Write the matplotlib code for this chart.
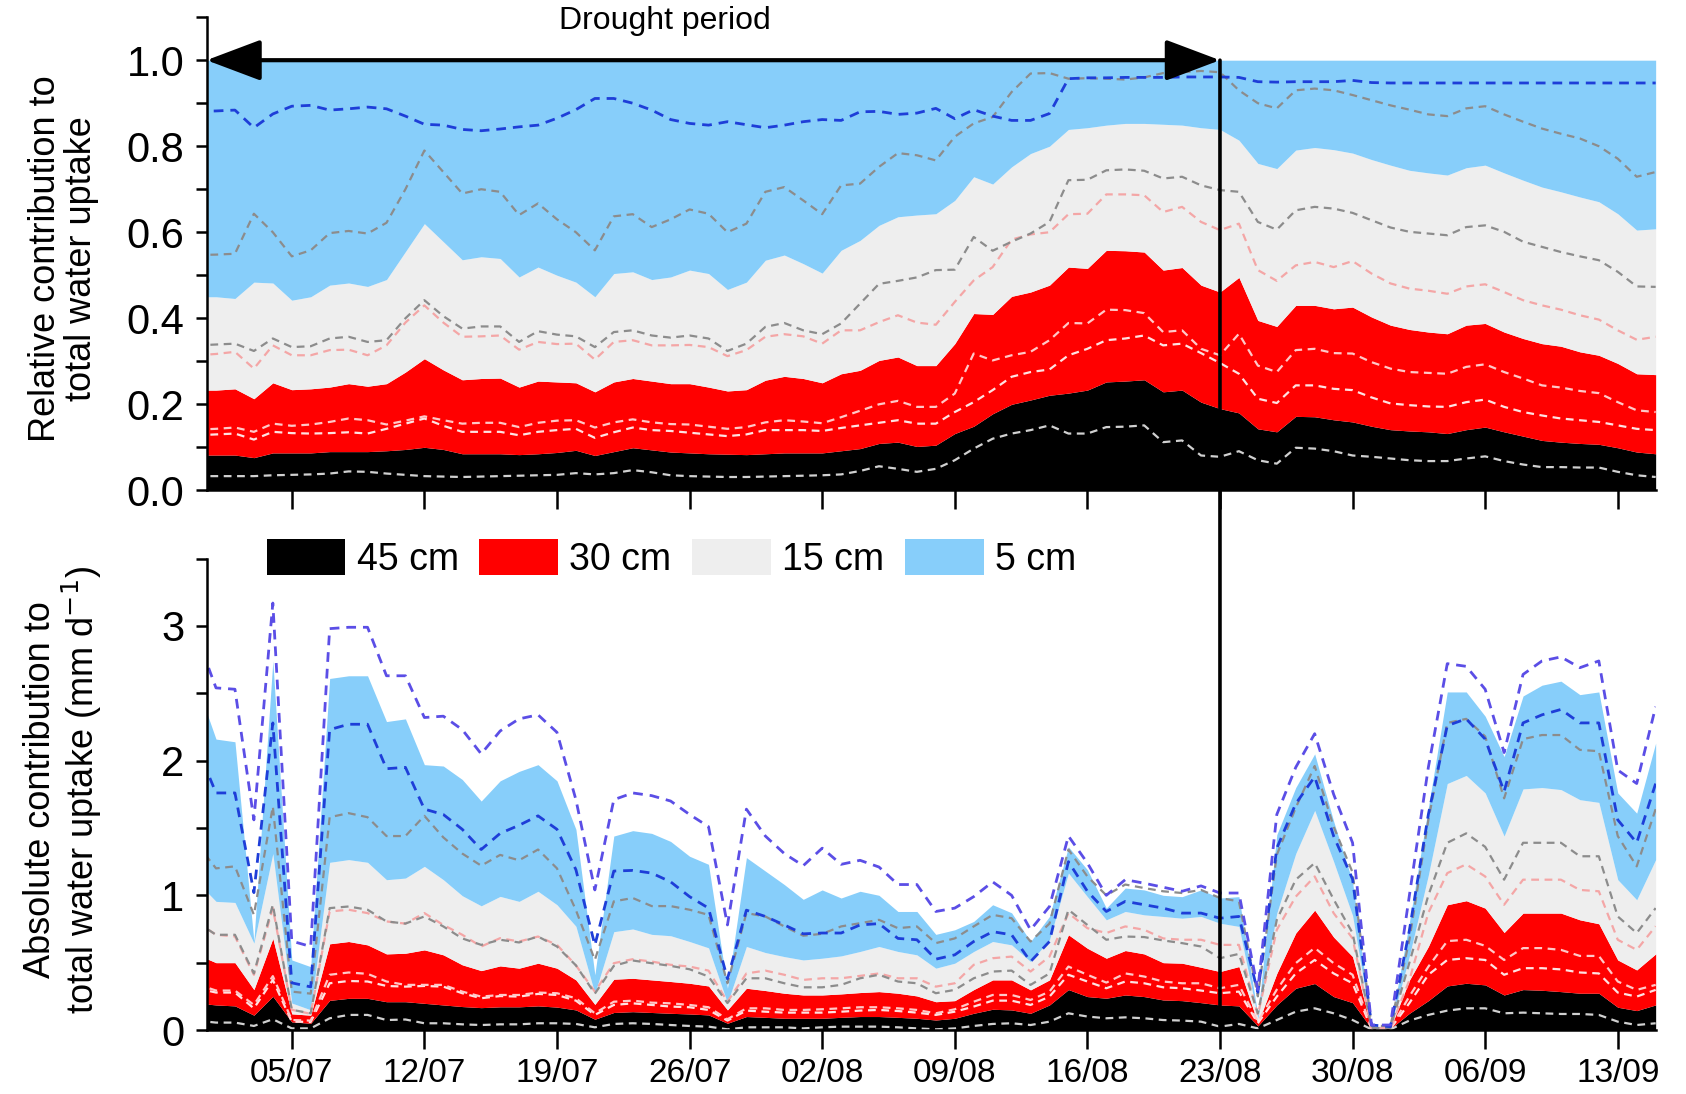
import numpy as np
from matplotlib import pyplot as plt
from matplotlib.patches import Patch, ConnectionPatch
from matplotlib.ticker import MultipleLocator

plt.rcParams['font.family'] = ['Liberation Sans', 'DejaVu Sans']

# day index: 0 = 30/06, 77 = 15/09
days = np.arange(0, 78)
tick_days = [5, 12, 19, 26, 33, 40, 47, 54, 61, 68, 75]
tick_labels = ['05/07', '12/07', '19/07', '26/07', '02/08', '09/08',
               '16/08', '23/08', '30/08', '06/09', '13/09']
drought_end = 54

# relative contribution, cumulative tops of each layer
rel_45 = [
    0.082, 0.082, 0.082, 0.076, 0.087, 0.087, 0.087, 0.090, 0.090, 0.090,
    0.092, 0.095, 0.100, 0.095, 0.085, 0.085, 0.085, 0.083, 0.085, 0.088,
    0.093, 0.081, 0.090, 0.099, 0.094, 0.089, 0.087, 0.085, 0.084, 0.083,
    0.085, 0.087, 0.087, 0.087, 0.092, 0.097, 0.109, 0.112, 0.102, 0.105,
    0.132, 0.149, 0.178, 0.200, 0.210, 0.221, 0.226, 0.233, 0.252, 0.254,
    0.257, 0.229, 0.233, 0.205, 0.190, 0.180, 0.143, 0.136, 0.172, 0.171,
    0.164, 0.159, 0.149, 0.141, 0.138, 0.136, 0.132, 0.141, 0.147, 0.136,
    0.126, 0.116, 0.112, 0.109, 0.107, 0.099, 0.089, 0.085]
rel_30 = [
    0.233, 0.233, 0.236, 0.213, 0.250, 0.234, 0.236, 0.240, 0.248, 0.242,
    0.248, 0.275, 0.306, 0.280, 0.257, 0.260, 0.261, 0.240, 0.254, 0.252,
    0.250, 0.229, 0.252, 0.260, 0.254, 0.248, 0.248, 0.240, 0.231, 0.234,
    0.256, 0.265, 0.260, 0.250, 0.271, 0.279, 0.302, 0.310, 0.290, 0.290,
    0.341, 0.411, 0.409, 0.451, 0.461, 0.477, 0.519, 0.516, 0.558, 0.557,
    0.554, 0.512, 0.518, 0.477, 0.461, 0.495, 0.395, 0.381, 0.430, 0.430,
    0.422, 0.426, 0.403, 0.384, 0.374, 0.368, 0.364, 0.384, 0.388, 0.368,
    0.353, 0.341, 0.335, 0.322, 0.314, 0.295, 0.271, 0.269]
rel_15 = [
    0.450, 0.450, 0.446, 0.484, 0.482, 0.442, 0.450, 0.477, 0.482, 0.474,
    0.490, 0.555, 0.620, 0.578, 0.536, 0.543, 0.539, 0.496, 0.519, 0.500,
    0.484, 0.450, 0.504, 0.508, 0.490, 0.496, 0.512, 0.504, 0.467, 0.484,
    0.535, 0.547, 0.527, 0.505, 0.558, 0.581, 0.616, 0.636, 0.640, 0.643,
    0.674, 0.729, 0.712, 0.752, 0.783, 0.800, 0.839, 0.843, 0.849, 0.853,
    0.853, 0.851, 0.849, 0.843, 0.839, 0.814, 0.760, 0.748, 0.791, 0.797,
    0.792, 0.784, 0.769, 0.756, 0.744, 0.738, 0.733, 0.750, 0.756, 0.738,
    0.721, 0.705, 0.694, 0.682, 0.671, 0.643, 0.605, 0.608]

# dashed bounds, relative panel (bottom to top)
rel_q1 = [
    0.033, 0.033, 0.033, 0.033, 0.035, 0.036, 0.037, 0.039, 0.044, 0.043,
    0.039, 0.036, 0.033, 0.032, 0.031, 0.032, 0.033, 0.034, 0.035, 0.036,
    0.040, 0.037, 0.040, 0.047, 0.042, 0.035, 0.033, 0.032, 0.031, 0.031,
    0.032, 0.033, 0.034, 0.035, 0.037, 0.045, 0.056, 0.050, 0.043, 0.050,
    0.070, 0.097, 0.120, 0.132, 0.140, 0.151, 0.132, 0.132, 0.147, 0.148,
    0.151, 0.112, 0.116, 0.081, 0.078, 0.091, 0.070, 0.062, 0.099, 0.097,
    0.091, 0.081, 0.078, 0.074, 0.070, 0.068, 0.068, 0.074, 0.079, 0.068,
    0.060, 0.054, 0.054, 0.053, 0.053, 0.043, 0.035, 0.031]
rel_q2 = [
    0.128, 0.130, 0.132, 0.118, 0.136, 0.133, 0.132, 0.133, 0.135, 0.132,
    0.143, 0.155, 0.167, 0.150, 0.136, 0.136, 0.136, 0.128, 0.136, 0.140,
    0.143, 0.122, 0.135, 0.146, 0.140, 0.138, 0.134, 0.130, 0.126, 0.130,
    0.140, 0.140, 0.140, 0.138, 0.145, 0.151, 0.157, 0.163, 0.155, 0.155,
    0.182, 0.205, 0.233, 0.264, 0.275, 0.281, 0.314, 0.329, 0.349, 0.353,
    0.360, 0.337, 0.341, 0.319, 0.296, 0.271, 0.213, 0.203, 0.244, 0.244,
    0.236, 0.233, 0.216, 0.202, 0.198, 0.195, 0.194, 0.205, 0.211, 0.194,
    0.182, 0.174, 0.167, 0.163, 0.159, 0.151, 0.143, 0.140]
rel_q3 = [
    0.141, 0.143, 0.146, 0.136, 0.155, 0.150, 0.153, 0.159, 0.167, 0.163,
    0.153, 0.162, 0.172, 0.163, 0.155, 0.157, 0.157, 0.147, 0.157, 0.162,
    0.163, 0.146, 0.158, 0.165, 0.158, 0.154, 0.153, 0.148, 0.143, 0.147,
    0.158, 0.163, 0.160, 0.156, 0.170, 0.185, 0.200, 0.208, 0.194, 0.194,
    0.225, 0.318, 0.302, 0.314, 0.322, 0.349, 0.389, 0.388, 0.420, 0.419,
    0.412, 0.368, 0.372, 0.329, 0.314, 0.364, 0.290, 0.275, 0.326, 0.329,
    0.319, 0.318, 0.298, 0.283, 0.275, 0.273, 0.271, 0.287, 0.293, 0.275,
    0.260, 0.244, 0.239, 0.231, 0.226, 0.205, 0.186, 0.182]
rel_q4 = [
    0.314, 0.317, 0.322, 0.283, 0.337, 0.314, 0.314, 0.326, 0.327, 0.314,
    0.337, 0.390, 0.430, 0.390, 0.357, 0.358, 0.360, 0.327, 0.345, 0.340,
    0.341, 0.304, 0.345, 0.349, 0.337, 0.337, 0.338, 0.333, 0.312, 0.326,
    0.357, 0.363, 0.358, 0.341, 0.372, 0.372, 0.391, 0.407, 0.390, 0.385,
    0.438, 0.488, 0.519, 0.583, 0.595, 0.600, 0.642, 0.643, 0.688, 0.688,
    0.686, 0.647, 0.659, 0.624, 0.605, 0.620, 0.512, 0.487, 0.523, 0.531,
    0.519, 0.533, 0.504, 0.481, 0.469, 0.464, 0.457, 0.474, 0.479, 0.461,
    0.442, 0.430, 0.420, 0.407, 0.397, 0.372, 0.350, 0.357]
rel_q5 = [
    0.337, 0.339, 0.341, 0.324, 0.353, 0.333, 0.335, 0.353, 0.357, 0.345,
    0.349, 0.400, 0.442, 0.405, 0.376, 0.381, 0.381, 0.345, 0.370, 0.362,
    0.358, 0.333, 0.368, 0.372, 0.360, 0.355, 0.360, 0.353, 0.324, 0.341,
    0.380, 0.389, 0.372, 0.363, 0.388, 0.434, 0.480, 0.487, 0.495, 0.512,
    0.513, 0.589, 0.557, 0.578, 0.597, 0.624, 0.721, 0.722, 0.744, 0.746,
    0.743, 0.725, 0.729, 0.709, 0.698, 0.694, 0.624, 0.606, 0.651, 0.659,
    0.655, 0.645, 0.628, 0.611, 0.601, 0.597, 0.593, 0.612, 0.616, 0.601,
    0.578, 0.566, 0.554, 0.544, 0.535, 0.508, 0.474, 0.473]
rel_q6 = [
    0.547, 0.548, 0.550, 0.643, 0.600, 0.544, 0.558, 0.598, 0.603, 0.597,
    0.622, 0.700, 0.790, 0.740, 0.690, 0.700, 0.694, 0.640, 0.667, 0.630,
    0.600, 0.558, 0.637, 0.642, 0.612, 0.630, 0.653, 0.643, 0.600, 0.620,
    0.694, 0.705, 0.674, 0.642, 0.709, 0.713, 0.752, 0.784, 0.779, 0.767,
    0.822, 0.853, 0.868, 0.926, 0.969, 0.970, 0.957, 0.958, 0.957, 0.955,
    0.960, 0.970, 0.972, 0.975, 0.972, 0.930, 0.900, 0.888, 0.930, 0.934,
    0.930, 0.919, 0.907, 0.895, 0.885, 0.874, 0.870, 0.888, 0.893, 0.874,
    0.857, 0.841, 0.829, 0.818, 0.800, 0.771, 0.729, 0.740]
rel_q7 = [
    0.881, 0.882, 0.884, 0.843, 0.875, 0.893, 0.895, 0.884, 0.887, 0.891,
    0.887, 0.870, 0.851, 0.849, 0.839, 0.836, 0.840, 0.845, 0.849, 0.865,
    0.885, 0.911, 0.911, 0.900, 0.884, 0.862, 0.853, 0.849, 0.857, 0.850,
    0.843, 0.849, 0.857, 0.862, 0.860, 0.880, 0.881, 0.874, 0.877, 0.888,
    0.864, 0.885, 0.870, 0.860, 0.860, 0.876, 0.957, 0.959, 0.959, 0.960,
    0.960, 0.960, 0.961, 0.961, 0.961, 0.960, 0.950, 0.949, 0.950, 0.950,
    0.950, 0.953, 0.948, 0.947, 0.947, 0.947, 0.947, 0.947, 0.947, 0.947,
    0.947, 0.947, 0.947, 0.947, 0.947, 0.947, 0.947, 0.947]

# absolute contribution (mm/d), cumulative tops of each layer
abs_45 = [
    0.200, 0.186, 0.179, 0.110, 0.250, 0.060, 0.050, 0.220, 0.235, 0.235,
    0.210, 0.210, 0.198, 0.186, 0.174, 0.166, 0.172, 0.172, 0.179, 0.170,
    0.149, 0.080, 0.130, 0.136, 0.130, 0.124, 0.119, 0.112, 0.050, 0.100,
    0.094, 0.087, 0.087, 0.087, 0.094, 0.100, 0.100, 0.094, 0.087, 0.074,
    0.087, 0.124, 0.154, 0.149, 0.124, 0.186, 0.300, 0.248, 0.236, 0.260,
    0.248, 0.223, 0.218, 0.203, 0.186, 0.179, 0.030, 0.186, 0.310, 0.345,
    0.248, 0.203, 0.010, 0.010, 0.124, 0.218, 0.327, 0.347, 0.335, 0.260,
    0.300, 0.295, 0.285, 0.273, 0.273, 0.169, 0.144, 0.186]
abs_30 = [
    0.560, 0.500, 0.500, 0.300, 0.680, 0.120, 0.110, 0.640, 0.657, 0.632,
    0.565, 0.570, 0.595, 0.558, 0.484, 0.441, 0.476, 0.459, 0.496, 0.459,
    0.372, 0.190, 0.377, 0.384, 0.372, 0.360, 0.347, 0.327, 0.149, 0.310,
    0.293, 0.273, 0.260, 0.260, 0.268, 0.278, 0.285, 0.273, 0.253, 0.210,
    0.218, 0.300, 0.372, 0.372, 0.298, 0.372, 0.707, 0.607, 0.533, 0.590,
    0.565, 0.500, 0.496, 0.466, 0.434, 0.471, 0.050, 0.420, 0.720, 0.890,
    0.690, 0.545, 0.015, 0.015, 0.370, 0.620, 0.930, 0.960, 0.905, 0.724,
    0.868, 0.868, 0.868, 0.818, 0.789, 0.520, 0.446, 0.565]
abs_15 = [
    1.100, 0.955, 0.947, 0.645, 1.310, 0.200, 0.150, 1.245, 1.265, 1.245,
    1.116, 1.128, 1.215, 1.116, 0.997, 0.922, 0.992, 0.955, 1.030, 0.930,
    0.770, 0.270, 0.730, 0.750, 0.710, 0.700, 0.657, 0.610, 0.200, 0.620,
    0.575, 0.545, 0.520, 0.533, 0.550, 0.583, 0.620, 0.583, 0.558, 0.459,
    0.496, 0.583, 0.657, 0.632, 0.508, 0.670, 1.165, 0.990, 0.818, 0.880,
    0.855, 0.843, 0.830, 0.843, 0.793, 0.769, 0.087, 0.868, 1.310, 1.630,
    1.250, 0.850, 0.020, 0.020, 0.550, 1.150, 1.830, 1.890, 1.760, 1.440,
    1.790, 1.800, 1.785, 1.710, 1.690, 1.116, 0.967, 1.265]
abs_5 = [
    2.560, 2.160, 2.140, 0.660, 2.740, 0.520, 0.470, 2.610, 2.630, 2.630,
    2.290, 2.310, 1.970, 1.960, 1.860, 1.700, 1.850, 1.920, 1.970, 1.850,
    1.490, 0.410, 1.440, 1.480, 1.460, 1.400, 1.290, 1.230, 0.310, 1.280,
    1.180, 1.080, 0.970, 1.040, 0.980, 1.030, 1.000, 0.880, 0.880, 0.710,
    0.744, 0.806, 0.930, 0.870, 0.657, 0.843, 1.360, 1.190, 0.905, 1.054,
    1.040, 1.000, 0.990, 1.040, 0.980, 0.990, 0.110, 1.450, 1.800, 2.050,
    1.550, 1.100, 0.025, 0.025, 0.800, 1.650, 2.510, 2.510, 2.330, 2.030,
    2.480, 2.560, 2.590, 2.490, 2.510, 1.760, 1.610, 2.130]

# dashed bounds, absolute panel (bottom to top)
abs_q1 = [
    0.070, 0.055, 0.055, 0.030, 0.080, 0.012, 0.012, 0.087, 0.112, 0.112,
    0.074, 0.078, 0.050, 0.050, 0.042, 0.037, 0.042, 0.042, 0.050, 0.050,
    0.045, 0.020, 0.045, 0.050, 0.045, 0.037, 0.030, 0.025, 0.005, 0.020,
    0.020, 0.020, 0.012, 0.020, 0.025, 0.025, 0.025, 0.020, 0.012, 0.005,
    0.012, 0.030, 0.045, 0.050, 0.037, 0.062, 0.124, 0.100, 0.087, 0.094,
    0.087, 0.074, 0.070, 0.062, 0.025, 0.045, 0.012, 0.074, 0.136, 0.161,
    0.124, 0.074, 0.005, 0.005, 0.070, 0.112, 0.144, 0.161, 0.161, 0.124,
    0.129, 0.124, 0.119, 0.119, 0.112, 0.062, 0.037, 0.050]
abs_q2 = [
    0.310, 0.278, 0.278, 0.161, 0.372, 0.062, 0.060, 0.347, 0.364, 0.360,
    0.327, 0.322, 0.327, 0.322, 0.273, 0.236, 0.252, 0.248, 0.268, 0.260,
    0.218, 0.112, 0.186, 0.198, 0.186, 0.174, 0.169, 0.149, 0.070, 0.144,
    0.136, 0.129, 0.129, 0.129, 0.136, 0.144, 0.149, 0.141, 0.129, 0.112,
    0.136, 0.174, 0.218, 0.218, 0.186, 0.248, 0.410, 0.360, 0.310, 0.360,
    0.347, 0.317, 0.310, 0.293, 0.273, 0.285, 0.050, 0.248, 0.420, 0.520,
    0.420, 0.347, 0.010, 0.010, 0.200, 0.410, 0.520, 0.533, 0.520, 0.410,
    0.459, 0.459, 0.450, 0.427, 0.420, 0.278, 0.248, 0.298]
abs_q3 = [
    0.340, 0.293, 0.293, 0.186, 0.400, 0.074, 0.070, 0.410, 0.427, 0.417,
    0.360, 0.335, 0.335, 0.335, 0.285, 0.248, 0.260, 0.260, 0.278, 0.273,
    0.236, 0.124, 0.210, 0.218, 0.203, 0.198, 0.186, 0.169, 0.080, 0.161,
    0.161, 0.149, 0.149, 0.154, 0.161, 0.169, 0.169, 0.161, 0.149, 0.124,
    0.154, 0.210, 0.260, 0.260, 0.223, 0.285, 0.471, 0.410, 0.352, 0.420,
    0.397, 0.360, 0.347, 0.347, 0.310, 0.335, 0.062, 0.300, 0.496, 0.610,
    0.496, 0.410, 0.012, 0.012, 0.250, 0.470, 0.660, 0.670, 0.625, 0.520,
    0.608, 0.608, 0.595, 0.550, 0.550, 0.360, 0.298, 0.335]
abs_q4 = [
    0.800, 0.707, 0.695, 0.410, 0.905, 0.150, 0.120, 0.880, 0.893, 0.868,
    0.806, 0.790, 0.868, 0.780, 0.707, 0.620, 0.682, 0.657, 0.694, 0.632,
    0.480, 0.285, 0.496, 0.526, 0.508, 0.484, 0.471, 0.441, 0.210, 0.420,
    0.441, 0.410, 0.372, 0.384, 0.384, 0.402, 0.420, 0.384, 0.384, 0.322,
    0.347, 0.484, 0.533, 0.545, 0.434, 0.545, 0.868, 0.756, 0.720, 0.769,
    0.744, 0.680, 0.670, 0.670, 0.632, 0.632, 0.112, 0.744, 0.990, 1.140,
    0.868, 0.680, 0.015, 0.015, 0.370, 0.870, 1.165, 1.230, 1.140, 0.930,
    1.116, 1.116, 1.116, 1.040, 1.030, 0.670, 0.595, 0.770]
abs_q5 = [
    0.800, 0.707, 0.707, 0.420, 0.930, 0.150, 0.124, 0.905, 0.917, 0.893,
    0.806, 0.790, 0.843, 0.769, 0.680, 0.632, 0.670, 0.650, 0.694, 0.620,
    0.480, 0.270, 0.476, 0.516, 0.496, 0.476, 0.451, 0.397, 0.200, 0.384,
    0.384, 0.347, 0.317, 0.317, 0.335, 0.384, 0.410, 0.360, 0.347, 0.273,
    0.298, 0.384, 0.434, 0.441, 0.335, 0.420, 0.893, 0.780, 0.670, 0.694,
    0.690, 0.665, 0.645, 0.620, 0.533, 0.565, 0.124, 0.818, 1.116, 1.240,
    0.970, 0.720, 0.015, 0.015, 0.500, 1.000, 1.390, 1.460, 1.360, 1.116,
    1.390, 1.390, 1.390, 1.290, 1.290, 0.843, 0.720, 0.905]
abs_q6 = [
    1.380, 1.200, 1.215, 0.855, 1.660, 0.285, 0.270, 1.580, 1.610, 1.580,
    1.440, 1.440, 1.590, 1.430, 1.310, 1.220, 1.300, 1.260, 1.340, 1.200,
    0.890, 0.520, 0.955, 0.980, 0.920, 0.920, 0.893, 0.855, 0.347, 0.868,
    0.843, 0.769, 0.700, 0.714, 0.769, 0.793, 0.818, 0.756, 0.769, 0.645,
    0.680, 0.769, 0.855, 0.830, 0.657, 0.790, 1.340, 1.140, 1.000, 1.080,
    1.054, 1.030, 1.017, 1.040, 0.980, 0.955, 0.250, 1.300, 1.650, 1.960,
    1.510, 1.170, 0.030, 0.030, 0.670, 1.560, 2.280, 2.310, 2.180, 1.720,
    2.160, 2.190, 2.190, 2.080, 2.070, 1.440, 1.215, 1.640]
abs_q7 = [
    2.100, 1.760, 1.760, 1.020, 2.280, 0.350, 0.320, 2.230, 2.270, 2.270,
    1.940, 1.950, 1.640, 1.600, 1.490, 1.340, 1.460, 1.520, 1.590, 1.490,
    1.190, 0.630, 1.180, 1.185, 1.165, 1.100, 0.990, 0.905, 0.380, 0.890,
    0.843, 0.780, 0.714, 0.720, 0.720, 0.780, 0.790, 0.680, 0.670, 0.526,
    0.558, 0.657, 0.730, 0.707, 0.508, 0.657, 1.250, 1.030, 0.880, 0.955,
    0.930, 0.905, 0.868, 0.868, 0.830, 0.843, 0.280, 1.350, 1.680, 1.880,
    1.440, 1.120, 0.037, 0.025, 0.740, 1.600, 2.260, 2.310, 2.160, 1.770,
    2.280, 2.340, 2.380, 2.280, 2.280, 1.560, 1.390, 1.830]
abs_q8 = [
    2.920, 2.540, 2.530, 1.560, 3.170, 0.660, 0.620, 2.980, 2.990, 2.990,
    2.630, 2.630, 2.320, 2.330, 2.230, 2.050, 2.220, 2.310, 2.340, 2.210,
    1.710, 1.040, 1.710, 1.760, 1.740, 1.700, 1.600, 1.510, 0.780, 1.640,
    1.440, 1.310, 1.220, 1.350, 1.230, 1.260, 1.210, 1.080, 1.080, 0.880,
    0.905, 0.990, 1.100, 1.000, 0.744, 0.917, 1.440, 1.240, 1.000, 1.116,
    1.090, 1.060, 1.030, 1.070, 1.017, 1.017, 0.300, 1.600, 1.950, 2.200,
    1.750, 1.390, 0.037, 0.037, 1.000, 1.950, 2.720, 2.700, 2.530, 2.060,
    2.640, 2.740, 2.770, 2.690, 2.740, 1.930, 1.830, 2.400]

layer_names = ['45 cm', '30 cm', '15 cm', '5 cm']
layer_colors = ['#000000', '#ff0000', '#eeeeee', '#87cefa']

# colours of the dashed bounds, bottom to top
dash_colors = ['#d0d0d0', '#ffe2e2', '#ffc8c8', '#f4a6a6',
               '#8c8c8c', '#8c8c8c', '#1e3ed8', '#5b4ee6']
dash_style = (0, (3.5, 2.5))


def draw_layers(ax, tops, top_value=None):
    lower = np.zeros(len(days))
    for i, top in enumerate(tops):
        top = np.asarray(top, dtype=float)
        ax.fill_between(days, lower, top, color=layer_colors[i], lw=0, zorder=1)
        lower = top
    if top_value is not None:
        ax.fill_between(days, lower, top_value, color=layer_colors[len(tops)],
                        lw=0, zorder=1)


def draw_dashes(ax, series):
    for i, s in enumerate(series):
        lw = 2.0 if i >= 6 else 1.6
        ax.plot(days, s, color=dash_colors[i], lw=lw, ls=dash_style, zorder=2)


def style_axis(ax):
    for side in ['top', 'right']:
        ax.spines[side].set_visible(False)
    for side in ['left', 'bottom']:
        ax.spines[side].set_linewidth(1.8)
        ax.spines[side].set_zorder(4)
    ax.set_xlim(0.5, 77)
    ax.set_xticks(tick_days)
    ax.tick_params(axis='x', direction='out', length=14, width=1.8, labelsize=24, pad=6)
    ax.tick_params(axis='y', which='both', direction='out', length=8, width=1.8,
                   labelsize=30, pad=8)


fig = plt.figure(figsize=(16.86, 10.94), dpi=100)
ax1 = fig.add_axes([0.1225, 0.5518, 0.8595, 0.4325])
ax2 = fig.add_axes([0.1225, 0.0585, 0.8595, 0.4309])

# top panel: relative contribution
draw_layers(ax1, [rel_45, rel_30, rel_15], top_value=1.0)
draw_dashes(ax1, [rel_q1, rel_q2, rel_q3, rel_q4, rel_q5, rel_q6, rel_q7])
style_axis(ax1)
ax1.set_ylim(0, 1.1)
ax1.set_yticks([0.0, 0.2, 0.4, 0.6, 0.8, 1.0])
ax1.set_yticklabels(['0.0', '0.2', '0.4', '0.6', '0.8', '1.0'])
ax1.yaxis.set_minor_locator(MultipleLocator(0.1))
ax1.set_xticklabels([])
ax1.set_ylabel('Relative contribution to\ntotal water uptake', fontsize=26,
               linespacing=1.05)
ax1.yaxis.set_label_coords(-0.074, 0.49)

ax1.annotate('', xy=(drought_end, 1.0), xytext=(0.5, 1.0),
             arrowprops=dict(arrowstyle='<|-|>,head_length=0.85,head_width=0.32',
                             mutation_scale=40, lw=3, color='k',
                             shrinkA=0, shrinkB=0),
             annotation_clip=False, zorder=5)
ax1.text(24.7, 1.09, 'Drought period', ha='center', va='center', fontsize=23)

# bottom panel: absolute contribution
draw_layers(ax2, [abs_45, abs_30, abs_15, abs_5])
draw_dashes(ax2, [abs_q1, abs_q2, abs_q3, abs_q4, abs_q5, abs_q6, abs_q7, abs_q8])
style_axis(ax2)
ax2.set_ylim(0, 3.5)
ax2.set_yticks([0, 1, 2, 3])
ax2.yaxis.set_minor_locator(MultipleLocator(0.5))
ax2.set_xticklabels(tick_labels)
ax2.set_ylabel('Absolute contribution to\ntotal water uptake (mm d$^{-1}$)',
               fontsize=26, linespacing=1.05)
ax2.yaxis.set_label_coords(-0.071, 0.51)

handles = [Patch(facecolor=c, edgecolor='none') for c in layer_colors]
ax2.legend(handles, layer_names, ncol=4, loc='center left',
           bbox_to_anchor=(0.0415, 1.0), frameon=False, fontsize=27,
           handlelength=2.1, handleheight=1.1, handletextpad=0.3,
           columnspacing=0.55, borderpad=0, borderaxespad=0)

# end of drought: vertical line through both panels
line = ConnectionPatch(xyA=(drought_end, 1.0), coordsA=ax1.transData,
                       xyB=(drought_end, 0.0), coordsB=ax2.transData,
                       color='k', lw=2.6, zorder=6)
fig.add_artist(line)

fig.savefig('out.png', dpi=100)
